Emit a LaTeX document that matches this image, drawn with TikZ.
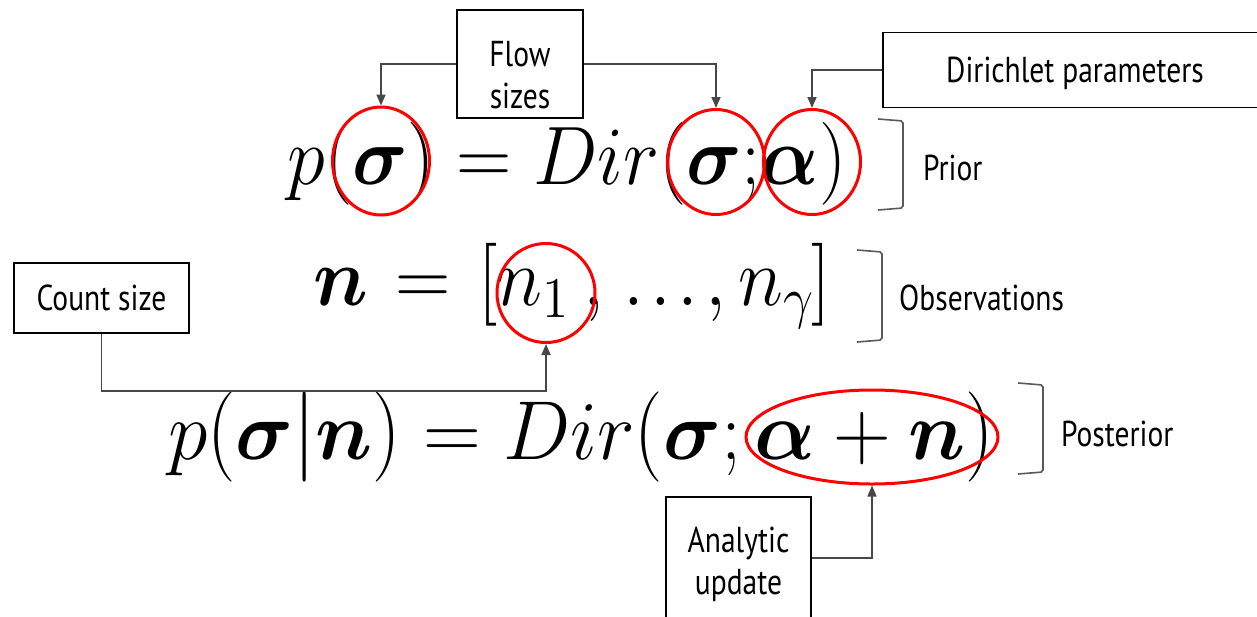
\documentclass[tikz,border=0pt]{standalone}
\usepackage[no-math]{fontspec}
\setmainfont[FakeStretch=0.82]{PT Sans}
\usepackage{amsmath,bm}
\usetikzlibrary{arrows.meta,shapes.geometric}
\newcommand{\bigeq}[3]{\scalebox{#1}[#2]{\fontsize{20.74}{25}\selectfont$#3$}}
\newcommand{\tlp}{\mathopen{\scalebox{1}[1.08]{$($}}}
\newcommand{\trp}{\mathclose{\scalebox{1}[1.08]{$)$}}}
\newcommand{\tbar}{\mathord{\scalebox{1}[1.08]{$|$}}}
\tikzset{
  lblbox/.style={draw=black, line width=1.5pt, fill=white, inner sep=0pt},
  lbltext/.style={font=\fontsize{36}{40}\selectfont, align=center, inner sep=0pt},
  side/.style={font=\fontsize{36}{40}\selectfont, anchor=west, inner sep=0pt},
  eqn/.style={anchor=base, inner sep=0pt},
  ring/.style={draw=red, line width=3pt, ellipse, inner sep=0pt},
  conn/.style={draw=black!72, line width=1.6pt, -{Triangle[length=11pt,width=9pt]}},
  brk/.style={draw=black!65, line width=1.6pt, rounded corners=2pt}
}
\begin{document}
\begin{tikzpicture}[x=1pt,y=-1pt]
\useasboundingbox (0,0) rectangle (1257,616);
\clip (0,0) rectangle (1257,616);
% equations
\node[eqn] (e1) at (567,184) {\bigeq{3.70}{4.0}{p(\bm{\sigma}) = Dir(\bm{\sigma}{;}\bm{\alpha})}};
\node[eqn] (e2) at (572,305) {\bigeq{3.70}{4.0}{\bm{n}\mkern1.5mu = \mkern1.5mu[n_1\mkern3mu,\mkern1.5mu.\mkern1.5mu.\mkern1.5mu.\mkern1.5mu, n_\gamma\mkern-1mu]}};
\node[eqn] (e3) at (581,459) {\bigeq{3.86}{4.03}{p\tlp\bm{\sigma}\tbar\bm{n}\trp = Dir\tlp\bm{\sigma};\bm{\alpha}+\bm{n}\trp}};
% red rings
\node[ring, minimum width=97pt, minimum height=108pt] (c1) at (381,161) {};
\node[ring, minimum width=97pt, minimum height=105pt] (c2) at (716,162) {};
\node[ring, minimum width=97pt, minimum height=105pt] (c3) at (812,162) {};
\node[ring, minimum width=98pt, minimum height=99pt] (c4) at (546,293) {};
\node[ring, minimum width=252pt, minimum height=94pt] (c5) at (872,437) {};
% label boxes
\node[lblbox, minimum width=126pt, minimum height=108pt] (flow) at (520,64) {};
\node[lbltext] (flowt) at (520,75) {Flow\\[2pt]sizes};
\node[lblbox, minimum width=384pt, minimum height=75pt] (dir) at (1075,70) {};
\node[lbltext] (dirt) at (1075,73) {Dirichlet parameters};
\node[lblbox, minimum width=175pt, minimum height=70pt] (count) at (101.5,298) {};
\node[lbltext] (countt) at (101.5,298) {Count size};
\node[lblbox, minimum width=145pt, minimum height=122pt] (ana) at (738.5,558) {};
\node[lbltext] (anat) at (738.5,564) {Analytic\\[2pt]update};
% connectors
\draw[conn] (flow.west) -| (c1.north);
\draw[conn] (flow.east) -| (c2.north);
\draw[conn] (dir.west) -| (c3.north);
\coordinate (cbend) at (101.5,391);
\draw[conn] (count.south) -- (cbend) -| (c4.south);
\draw[conn] (ana.east) -| (c5.south);
% brackets
\draw[brk] (878,119) -- (903,121) -- (903,208) -- (878,210);
\draw[brk] (857,250) -- (882,252) -- (882,340) -- (857,342);
\draw[brk] (1018,383) -- (1043,385) -- (1043,472) -- (1018,474);
\node[side] (prior) at (923,168) {Prior};
\node[side] (obs) at (899,298) {Observations};
\node[side] (post) at (1061,434) {Posterior};
\end{tikzpicture}
\end{document}
